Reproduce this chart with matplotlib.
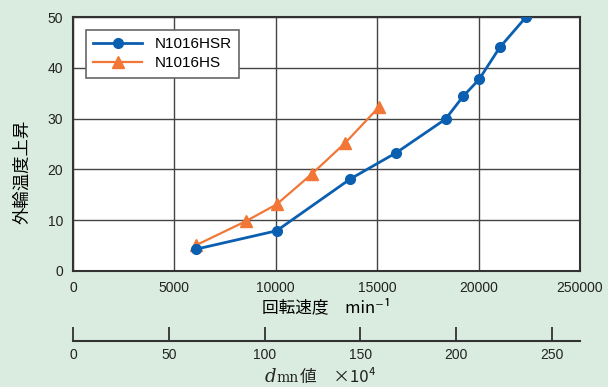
import matplotlib.pyplot as plt

# 回転速度 (min-1) vs 外輪温度上昇
hsr_speed = [6090, 10040, 13670, 15950, 18370, 19240, 20020, 21040, 22360]
hsr_temp = [4.3, 7.9, 18.1, 23.3, 29.9, 34.4, 37.7, 44.0, 50.1]
hs_speed = [6090, 8530, 10040, 11780, 13420, 15070]
hs_temp = [5.1, 9.8, 13.1, 19.1, 25.2, 32.2]

speed_ticks = [0, 5000, 10000, 15000, 20000, 25000]
speed_labels = ["0", "5000", "10000", "15000", "20000", "250000"]
dmn_ticks = [0, 50, 100, 150, 200, 250]

bg = "#d9ecdf"
blue = "#0b5fb0"
orange = "#f27635"
jp = ["Noto Sans CJK JP", "DejaVu Sans"]
plt.rcParams["font.family"] = ["Liberation Sans", "Noto Sans CJK JP", "DejaVu Sans"]

fig = plt.figure(figsize=(6.08, 3.87), dpi=100, facecolor=bg)
ax = fig.add_axes([0.120, 0.300, 0.834, 0.656])
ax.set_facecolor("white")

ax.plot(hsr_speed, hsr_temp, color=blue, lw=2.0, marker="o", ms=7, label="N1016HSR", zorder=4)
ax.plot(hs_speed, hs_temp, color=orange, lw=1.6, marker="^", ms=9, label="N1016HS", zorder=3)

ax.set_xlim(0, 25000)
ax.set_ylim(0, 50)
ax.set_xticks(speed_ticks)
ax.set_xticklabels(speed_labels)
ax.set_yticks(range(0, 51, 10))
ax.tick_params(length=0, labelsize=10, colors="#222222", pad=7)
ax.grid(True, color="#444444", lw=1.0)
ax.set_axisbelow(True)
for s in ax.spines.values():
    s.set_color("#333333")
    s.set_linewidth(1.5)

ax.set_xlabel("回転速度　min⁻¹", fontsize=12, family=jp, labelpad=3)
ax.set_ylabel("外輪温度上昇", fontsize=12.5, family=jp)
ax.yaxis.set_label_coords(-0.082, 0.39)

leg = ax.legend(loc="upper left", bbox_to_anchor=(0.01, 0.98), fontsize=11,
                fancybox=False, edgecolor="#666666", framealpha=1,
                handlelength=3.2, borderpad=0.5, labelspacing=0.3)
leg.get_frame().set_linewidth(1.2)

# dmn値 scale
ax2 = fig.add_axes([0.120, 0.119, 0.834, 0.001])
ax2.set_facecolor("none")
ax2.set_xlim(0, 264.6)
ax2.set_xticks(dmn_ticks)
ax2.set_yticks([])
for k in ["top", "left", "right"]:
    ax2.spines[k].set_visible(False)
ax2.spines["bottom"].set_color("#333333")
ax2.spines["bottom"].set_linewidth(1.5)
ax2.tick_params(axis="x", direction="in", length=10, width=1.2, colors="#222222",
                labelsize=10, pad=5)

fig.text(0.436, 0.014, "d", fontsize=13, family="DejaVu Serif", style="italic", color="#222222")
fig.text(0.455, 0.014, "mn", fontsize=10, family="DejaVu Serif", color="#222222")
fig.text(0.494, 0.014, "値　×10⁴", fontsize=12, family=jp, color="#222222")

fig.savefig("out.png", dpi=100, facecolor=bg)
